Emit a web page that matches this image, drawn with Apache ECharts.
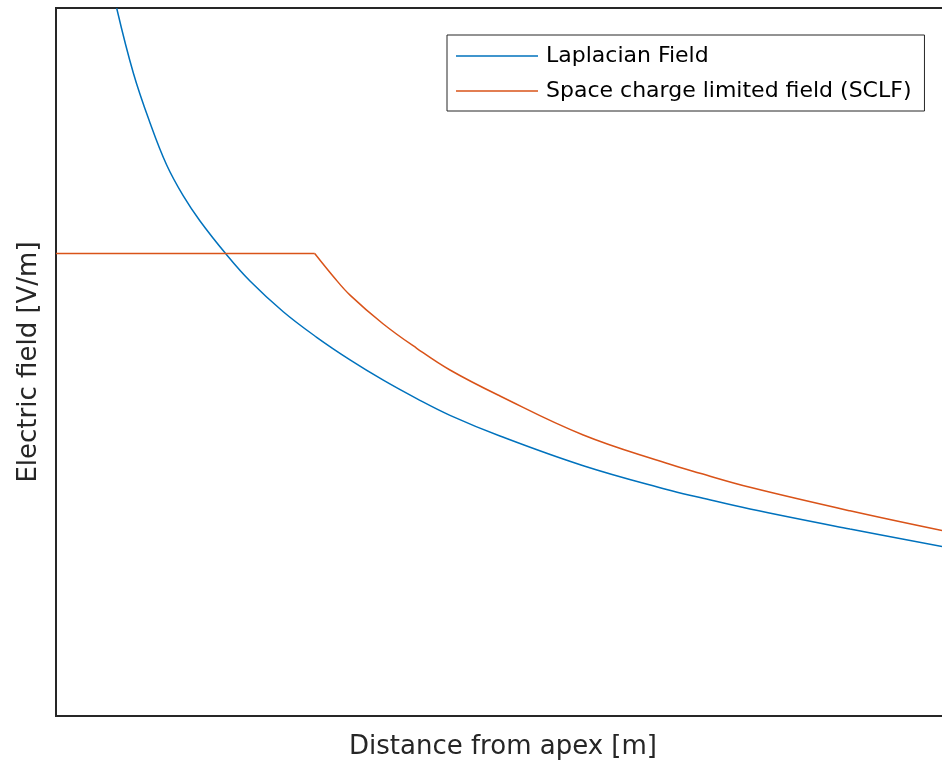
<!DOCTYPE html>
<html>
<head>
<meta charset="utf-8">
<script src="https://cdn.jsdelivr.net/npm/echarts@6/dist/echarts.min.js"></script>
<style>html,body{margin:0;padding:0;background:#fff;overflow:hidden}#c{width:942px;height:770px}</style>
</head>
<body>
<div id="c"></div>
<script>
// Distance from apex (normalised units, no tick labels in the original)
const laplacianX = [0.0679,0.0865,0.1051,0.1238,0.1424,0.1611,0.1902,0.2170,0.2542,0.2916,0.3289,0.3661,0.4035,0.4407,0.4966,0.5898,0.6831,0.7204,0.7763,0.8881,0.9911];
const laplacianY = [0.9996,0.9082,0.8380,0.7782,0.7345,0.6992,0.6525,0.6144,0.5710,0.5349,0.5030,0.4743,0.4483,0.4247,0.3955,0.3535,0.3199,0.3086,0.2924,0.2641,0.2393];
// SCLF: flat plateau then decaying part
const sclfFlatX = [0, 0.2894];
const sclfFlatY = [0.6532, 0.6532];
const sclfCurveX = [0.2894,0.3102,0.3289,0.3661,0.4035,0.4407,0.4966,0.5898,0.6831,0.7204,0.7763,0.8881,0.9911];
const sclfCurveY = [0.6532,0.6208,0.5945,0.5537,0.5194,0.4887,0.4520,0.3969,0.3569,0.3428,0.3230,0.2898,0.2619];

const zip = (xs, ys) => xs.map((x, i) => [x, ys[i]]);
const FONT = '"DejaVu Sans", "Liberation Sans", Arial, sans-serif';
const BLUE = '#0072BD', ORANGE = '#D95319';
const NAME1 = 'Laplacian Field', NAME2 = 'Space charge limited field (SCLF)';

const chart = echarts.init(document.getElementById('c'), null, {renderer: 'canvas'});
chart.setOption({
  animation: false,
  backgroundColor: '#fff',
  grid: {left: 56, width: 894, top: 8, height: 708, outerBoundsMode: 'none', show: true, borderColor: '#262626', borderWidth: 2, backgroundColor: '#fff'},
  legend: {
    data: [NAME1, NAME2],
    orient: 'vertical',
    left: 447, top: 35,
    padding: [10, 13, 9, 9],
    itemGap: 13,
    itemWidth: 82, itemHeight: 1.5,
    icon: 'rect',
    borderColor: '#262626', borderWidth: 1,
    backgroundColor: '#fff',
    textStyle: {fontFamily: FONT, fontSize: 22, color: '#000', padding: [0, 0, 0, 3]}
  },
  xAxis: {
    type: 'value', min: 0, max: 1,
    name: 'Distance from apex [m]', nameLocation: 'middle', nameGap: 18,
    nameTextStyle: {fontFamily: FONT, fontSize: 26, color: '#262626', verticalAlign: 'top'},
    axisLine: {show: false}, axisTick: {show: false}, axisLabel: {show: false}, splitLine: {show: false}
  },
  yAxis: {
    type: 'value', min: 0, max: 1,
    name: 'Electric field [V/m]', nameLocation: 'middle', nameGap: 14,
    nameTextStyle: {fontFamily: FONT, fontSize: 26, color: '#262626', verticalAlign: 'bottom'},
    axisLine: {show: false}, axisTick: {show: false}, axisLabel: {show: false}, splitLine: {show: false}
  },
  series: [
    {name: NAME1, type: 'line', data: zip(laplacianX, laplacianY), smooth: 0.4, symbol: 'none', color: BLUE, lineStyle: {color: BLUE, width: 1.5}},
    {name: NAME2, type: 'line', data: zip(sclfFlatX, sclfFlatY), symbol: 'none', color: ORANGE, lineStyle: {color: ORANGE, width: 1.5}},
    {name: NAME2, type: 'line', data: zip(sclfCurveX, sclfCurveY), smooth: 0.4, symbol: 'none', color: ORANGE, lineStyle: {color: ORANGE, width: 1.5}}
  ]
});
</script>
</body>
</html>
